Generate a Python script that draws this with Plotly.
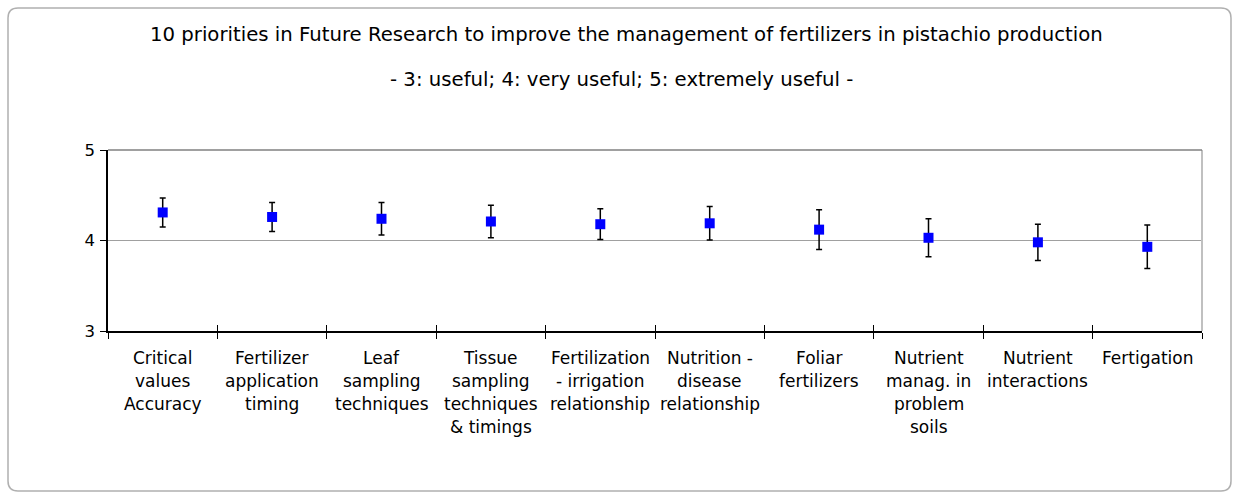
import plotly.graph_objects as go

# Research priorities and their mean usefulness scores with error half-widths
categories = [
    "Critical<br>values<br>Accuracy",
    "Fertilizer<br>application<br>timing",
    "Leaf<br>sampling<br>techniques",
    "Tissue<br>sampling<br>techniques<br>& timings",
    "Fertilization<br>- irrigation<br>relationship",
    "Nutrition -<br>disease<br>relationship",
    "Foliar<br>fertilizers",
    "Nutrient<br>manag. in<br>problem<br>soils",
    "Nutrient<br>interactions",
    "Fertigation",
]
mean_score = [4.31, 4.26, 4.24, 4.21, 4.18, 4.19, 4.12, 4.03, 3.98, 3.93]
error_half = [0.16, 0.16, 0.18, 0.18, 0.17, 0.185, 0.22, 0.21, 0.20, 0.24]
y_ticks = [3, 4, 5]

title_text = "10 priorities in Future Research to improve the management of fertilizers in pistachio production"
subtitle_text = "- 3: useful; 4: very useful; 5: extremely useful -"

FONT = "DejaVu Sans"
W, H = 1239, 499
ML, MR, MT, MB = 108, 37, 150, 168
LABEL_SIZE = 17
LABEL_GAP = 27      # axis line to centre of first label line
LINE_STEP = 23      # spacing between wrapped label lines

fig = go.Figure()
fig.add_trace(go.Scatter(
    x=categories, y=mean_score,
    mode="markers",
    marker=dict(symbol="square", size=10, color="#0000FF"),
    error_y=dict(type="data", array=error_half, visible=True,
                 color="black", thickness=1.5, width=3),
    showlegend=False,
))
# companion trace on the overlay axis so its inner ticks are drawn
fig.add_trace(go.Scatter(
    x=categories, y=mean_score, xaxis="x2",
    mode="markers", marker=dict(opacity=0), hoverinfo="skip",
    showlegend=False,
))

# helpers converting figure pixels to paper fractions
pw, ph = W - ML - MR, H - MT - MB
def fx(px):
    return (px - ML) / pw
def fy(py):
    return (H - MB - py) / ph

# rounded frame around the whole figure
r = 10
x0, y0, x1, y1 = 8, 8, 1231, 491
frame_path = (
    f"M {fx(x0 + r)} {fy(y0)} L {fx(x1 - r)} {fy(y0)} "
    f"Q {fx(x1)} {fy(y0)} {fx(x1)} {fy(y0 + r)} "
    f"L {fx(x1)} {fy(y1 - r)} Q {fx(x1)} {fy(y1)} {fx(x1 - r)} {fy(y1)} "
    f"L {fx(x0 + r)} {fy(y1)} Q {fx(x0)} {fy(y1)} {fx(x0)} {fy(y1 - r)} "
    f"L {fx(x0)} {fy(y0 + r)} Q {fx(x0)} {fy(y0)} {fx(x0 + r)} {fy(y0)} Z"
)

# category labels, one annotation per wrapped line
label_annotations = []
for cat in categories:
    for i, line in enumerate(cat.split("<br>")):
        label_annotations.append(dict(
            text=line, x=cat, xref="x", y=0, yref="paper",
            yshift=-(LABEL_GAP + LINE_STEP * i), xanchor="center",
            yanchor="middle", showarrow=False,
            font=dict(size=LABEL_SIZE),
        ))

fig.update_layout(
    width=W, height=H,
    margin=dict(l=ML, r=MR, t=MT, b=MB),
    paper_bgcolor="white", plot_bgcolor="white",
    font=dict(family=FONT, size=14, color="black"),
    xaxis=dict(
        type="category", tickson="boundaries", ticks="outside",
        ticklen=6, tickcolor="black", tickwidth=1,
        showline=True, linecolor="black", linewidth=1.5,
        showgrid=False, showticklabels=False,
        range=[-0.5, len(categories) - 0.5],
    ),
    xaxis2=dict(
        type="category", overlaying="x", matches="x", tickson="boundaries",
        ticks="inside", ticklen=6, tickcolor="black", tickwidth=1,
        showticklabels=False, showgrid=False, showline=False, side="bottom",
    ),
    yaxis=dict(
        range=[3, 5], tickvals=y_ticks, ticks="outside", ticklen=6,
        tickcolor="black", showline=True, linecolor="black", linewidth=1.5,
        showgrid=True, gridcolor="#a0a0a0", gridwidth=1,
        tickfont=dict(size=16.5), zeroline=False, ticklabelstandoff=2,
    ),
    shapes=[
        dict(type="path", xref="paper", yref="paper", path=frame_path,
             line=dict(color="#b0b0b0", width=1.5), layer="below"),
        dict(type="line", xref="paper", yref="paper", x0=1, x1=1, y0=0, y1=1,
             line=dict(color="#c0c0c0", width=2)),
        dict(type="line", xref="paper", yref="paper", x0=0, x1=1, y0=1, y1=1,
             line=dict(color="#808080", width=1.5)),
    ],
    annotations=[
        dict(text=title_text, xref="paper", yref="paper", x=fx(626), y=1,
             yshift=116, xanchor="center", yanchor="middle",
             showarrow=False, font=dict(size=19.7)),
        dict(text=subtitle_text, xref="paper", yref="paper", x=fx(621), y=1,
             yshift=71, xanchor="center", yanchor="middle",
             showarrow=False, font=dict(size=19.7)),
    ] + label_annotations,
)

fig.write_html("out.html")
